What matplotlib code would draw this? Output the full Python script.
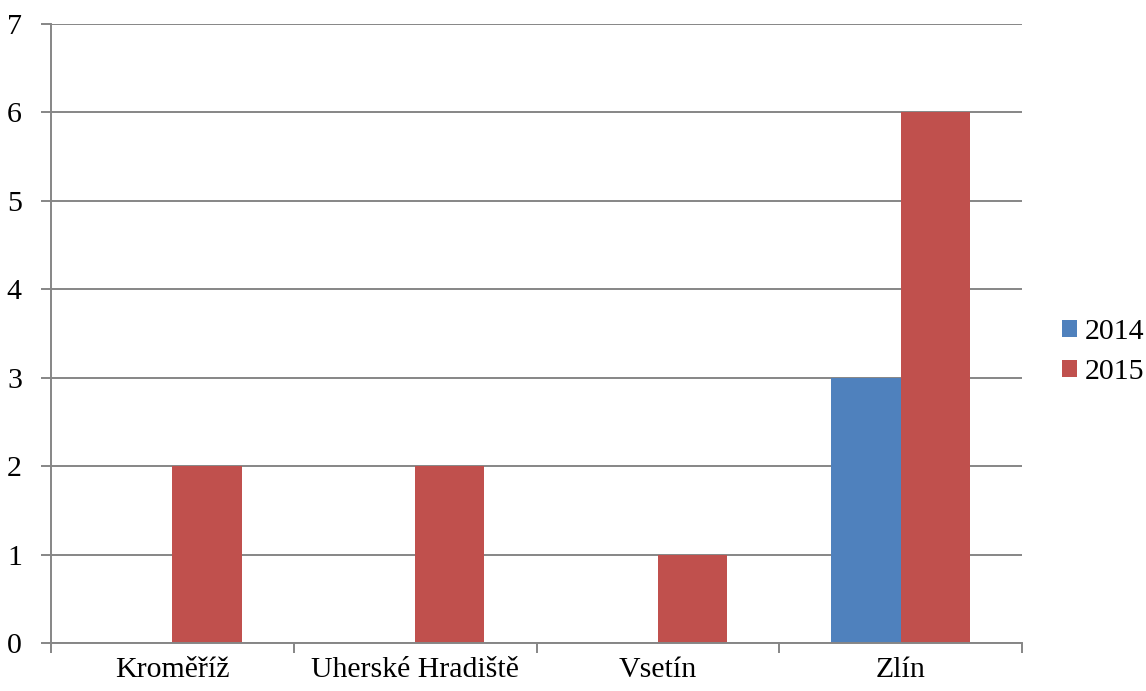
import matplotlib
matplotlib.use("Agg")
import matplotlib.pyplot as plt
import numpy as np

categories = ["Kroměříž", "Uherské Hradiště", "Vsetín", "Zlín"]
series_names = ["2014", "2015"]
values_2014 = [0, 0, 0, 3]
values_2015 = [2, 2, 1, 6]
y_ticks = [0, 1, 2, 3, 4, 5, 6, 7]

plt.rcParams['font.family'] = ['Liberation Serif', 'DejaVu Serif']

fig = plt.figure(figsize=(11.46, 6.91), dpi=100)
ax = fig.add_axes([51/1146, 1-643/691, (1022-51)/1146, (643-24)/691])

x = np.arange(len(categories))
w = 0.285
ax.bar(x - w/2, values_2014, w, color="#4F81BD", label=series_names[0], zorder=2)
ax.bar(x + w/2, values_2015, w, color="#C0504D", label=series_names[1], zorder=2)

ax.set_xlim(-0.5, len(categories) - 0.5)
ax.set_ylim(0, 7)
ax.set_yticks(y_ticks)
ax.set_yticklabels([str(t) for t in y_ticks], fontsize=21.5)
ax.yaxis.grid(True, color="#868686", linewidth=1.4, zorder=0)
ax.set_axisbelow(True)

ax.set_xticks(x)
ax.set_xticklabels(categories, fontsize=21.5)
ax.set_xticks(np.arange(len(categories) + 1) - 0.5, minor=True)
ax.tick_params(axis='x', which='major', length=0, pad=10)
ax.tick_params(axis='x', which='minor', length=7, color="#868686", width=1.4)
ax.tick_params(axis='y', length=7, color="#868686", width=1.4, pad=14)

for s in ['top', 'right']:
    ax.spines[s].set_visible(False)
for s in ['left', 'bottom']:
    ax.spines[s].set_color("#868686")
    ax.spines[s].set_linewidth(1.4)

handles, labels = ax.get_legend_handles_labels()
fig.legend(handles, labels, loc='center left', bbox_to_anchor=(1062/1146, 1-352/691),
           frameon=False, fontsize=21.5, handlelength=0.5, handleheight=0.5,
           handletextpad=0.25, labelspacing=0.45, borderpad=0, borderaxespad=0)

fig.savefig("out.png", dpi=100)
